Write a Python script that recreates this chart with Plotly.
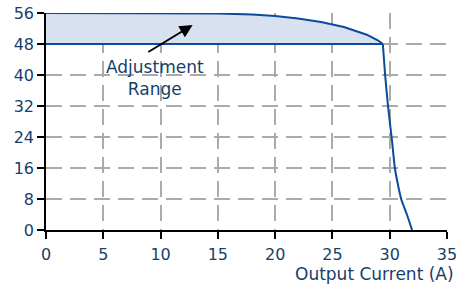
import plotly.graph_objects as go

upper_x = [0, 10, 15, 18, 20, 22, 24, 26, 27, 28, 29, 29.4]
upper_y = [56, 56, 55.9, 55.6, 55.2, 54.6, 53.7, 52.4, 51.5, 50.4, 48.9, 48]
lower_x = [0, 29.4]
lower_y = [48, 48]
drop_x = [29.4, 29.6, 29.85, 30.2, 30.45, 30.7, 31.0, 31.5, 31.95]
drop_y = [48, 40, 32, 23, 16, 12, 8, 4, 0]

x_ticks = [0, 5, 10, 15, 20, 25, 30, 35]
y_ticks = [0, 8, 16, 24, 32, 40, 48, 56]

line_col = "#0b4a9c"
fill_col = "#d7e1ef"
text_col = "#173f6a"
FONT = "DejaVu Sans"

fig = go.Figure()
fig.add_trace(go.Scatter(x=lower_x, y=lower_y, mode="lines",
                         line=dict(color=line_col, width=2), hoverinfo="skip"))
fig.add_trace(go.Scatter(x=upper_x, y=upper_y, mode="lines", fill="tonexty",
                         fillcolor=fill_col,
                         line=dict(color=line_col, width=2), hoverinfo="skip"))
fig.add_trace(go.Scatter(x=drop_x, y=drop_y, mode="lines",
                         line=dict(color=line_col, width=2, shape="spline", smoothing=0.6),
                         hoverinfo="skip"))

fig.add_annotation(x=9.5, y=39.2, text="Adjustment<br>Range", showarrow=False,
                   font=dict(size=17, color=text_col, family=FONT))
fig.add_annotation(x=12.8, y=52.9, ax=8.8, ay=45.7, xref="x", yref="y",
                   axref="x", ayref="y", text="", showarrow=True,
                   arrowhead=2, arrowsize=1.3, arrowwidth=2, arrowcolor="black")
fig.add_annotation(x=1.0224, y=-0.203, xref="paper", yref="paper",
                   xanchor="right", yanchor="middle", showarrow=False,
                   text="Output Current (A)",
                   font=dict(size=17, color=text_col, family=FONT))

grid = dict(showgrid=True, gridcolor="#aaaaaa", gridwidth=1.5, griddash="16px,8px")
fig.update_xaxes(range=[0, 35], tickvals=x_ticks, ticks="outside", ticklen=7,
                 tickwidth=1.5, tickcolor="black", showline=True, linecolor="black",
                 linewidth=1.5, zeroline=False, automargin=False, **grid,
                 ticklabelstandoff=2,
                 tickfont=dict(size=16, color=text_col, family=FONT))
fig.update_yaxes(range=[0, 56], tickvals=y_ticks, ticks="outside", ticklen=7,
                 tickwidth=1.5, tickcolor="black", showline=True, linecolor="black",
                 linewidth=1.5, zeroline=False, automargin=False, **grid,
                 tickfont=dict(size=16, color=text_col, family=FONT))
fig.update_layout(width=466, height=291, showlegend=False,
                  margin=dict(l=46, r=19, t=13, b=61),
                  plot_bgcolor="white", paper_bgcolor="white")
fig.write_html("out.html", config={"displayModeBar": False},
               post_script="document.body.style.margin='0';document.body.style.padding='0';")
